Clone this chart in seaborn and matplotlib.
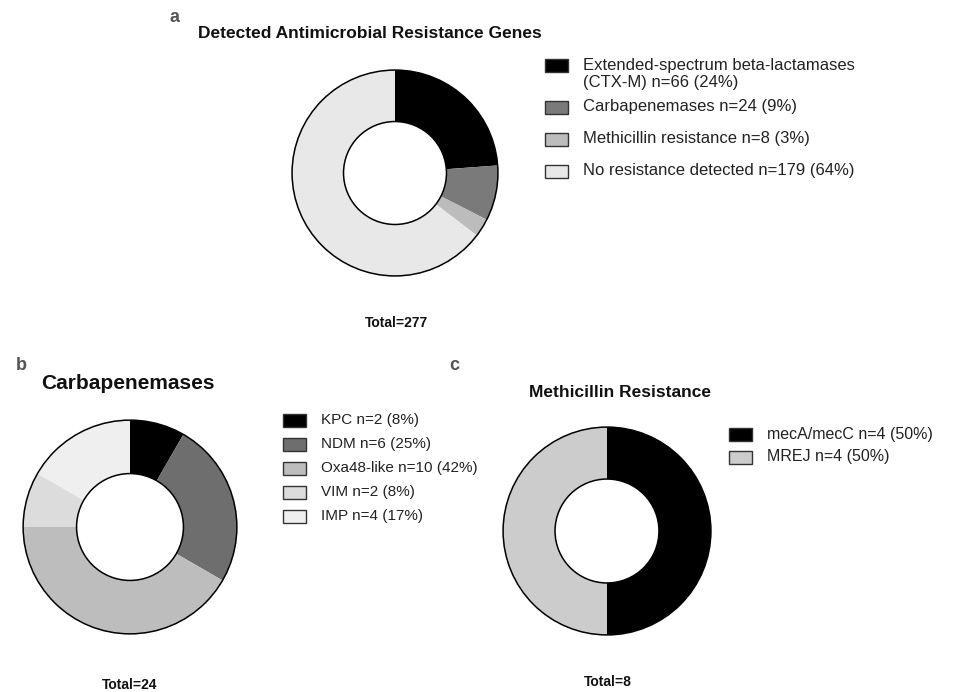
import matplotlib
matplotlib.use("Agg")
import matplotlib.pyplot as plt
from matplotlib.patches import Circle, Rectangle
import seaborn as sns

sns.set_theme(style="white")
plt.rcParams['font.family'] = ['Liberation Sans', 'DejaVu Sans']

# ---- data ----
a_labels = ["Extended-spectrum beta-lactamases\n(CTX-M) n=66 (24%)",
            "Carbapenemases n=24 (9%)",
            "Methicillin resistance n=8 (3%)",
            "No resistance detected n=179 (64%)"]
a_values = [66, 24, 8, 179]
a_colors = ["#000000", "#7a7a7a", "#bcbcbc", "#e8e8e8"]

b_labels = ["KPC n=2 (8%)", "NDM n=6 (25%)", "Oxa48-like n=10 (42%)",
            "VIM n=2 (8%)", "IMP n=4 (17%)"]
b_values = [2, 6, 10, 2, 4]
b_colors = ["#000000", "#6e6e6e", "#bdbdbd", "#dcdcdc", "#efefef"]

c_labels = ["mecA/mecC n=4 (50%)", "MREJ n=4 (50%)"]
c_values = [4, 4]
c_colors = ["#000000", "#cccccc"]

W, H = 970, 692
fig = plt.figure(figsize=(W / 100, H / 100), dpi=100)


def fx(x):
    return x / W


def fy(y):
    return 1 - y / H


def donut(cx, cy, r, values, colors):
    ax = fig.add_axes([(cx - r) / W, (H - cy - r) / H, 2 * r / W, 2 * r / H])
    ax.pie(values, colors=colors, startangle=90, counterclock=False,
           radius=1, wedgeprops=dict(width=0.5, linewidth=0))
    ax.add_patch(Circle((0, 0), 1, fill=False, lw=1.1, ec="black"))
    ax.add_patch(Circle((0, 0), 0.5, fill=False, lw=1.1, ec="black"))
    ax.set_xlim(-1.02, 1.02)
    ax.set_ylim(-1.02, 1.02)
    ax.set_aspect("equal")
    ax.axis("off")
    return ax


def legend(x, rows, labels, colors, fontsize, text_rows=None):
    text_rows = text_rows or rows
    for y, ty, lab, col in zip(rows, text_rows, labels, colors):
        fig.patches.append(Rectangle((fx(x), fy(y + 6.5)), 23 / W, 13 / H,
                                     facecolor=col, edgecolor="#333333", lw=1.0,
                                     transform=fig.transFigure, figure=fig))
        fig.text(fx(x + 38), fy(ty), lab, fontsize=fontsize, color="#222222",
                 va="center", ha="left", linespacing=1.15)


donut(395, 173, 105, a_values, a_colors)
donut(130, 527, 109, b_values, b_colors)
donut(607, 531, 106, c_values, c_colors)

legend(545, [65, 107, 139, 171], a_labels, a_colors, 12,
       text_rows=[74, 107, 139, 171])
legend(283, [420, 444, 468, 492, 516], b_labels, b_colors, 11)
legend(729, [434, 457], c_labels, c_colors, 11.5)

gray = "#555555"
fig.text(fx(175), fy(18), "a", fontsize=13, fontweight="bold", color=gray, va="center", ha="center")
fig.text(fx(370), fy(34), "Detected Antimicrobial Resistance Genes", fontsize=12.5,
         fontweight="bold", color="#111111", va="center", ha="center")
fig.text(fx(397), fy(323), "Total=277", fontsize=10, fontweight="bold", color="#111111",
         va="center", ha="center")

fig.text(fx(21), fy(365), "b", fontsize=13, fontweight="bold", color=gray, va="center", ha="center")
fig.text(fx(128), fy(384), "Carbapenemases", fontsize=15, fontweight="bold",
         color="#111111", va="center", ha="center")
fig.text(fx(130), fy(685), "Total=24", fontsize=10, fontweight="bold", color="#111111",
         va="center", ha="center")

fig.text(fx(454), fy(365), "c", fontsize=13, fontweight="bold", color=gray, va="center", ha="center")
fig.text(fx(620), fy(392), "Methicillin Resistance", fontsize=12.5, fontweight="bold",
         color="#111111", va="center", ha="center")
fig.text(fx(608), fy(682), "Total=8", fontsize=10, fontweight="bold", color="#111111",
         va="center", ha="center")

fig.savefig("out.png", dpi=100, facecolor="white")
